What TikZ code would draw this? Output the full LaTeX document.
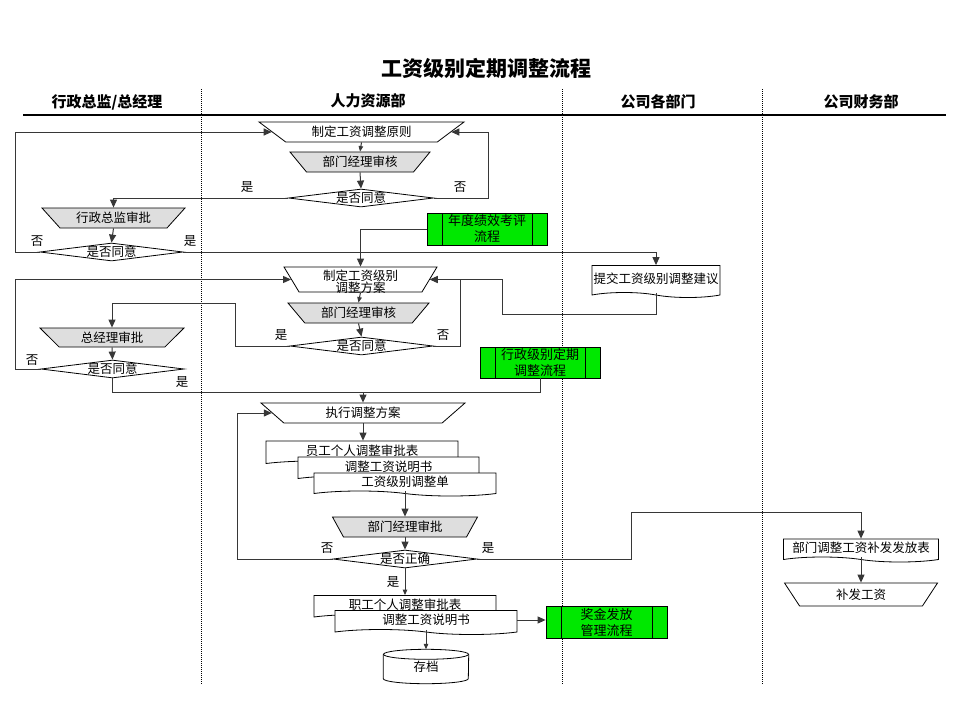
\documentclass[tikz,border=0pt]{standalone}
\usepackage{fontspec}
\newfontfamily\cjk{Noto Sans CJK SC}
\usetikzlibrary{shapes.geometric,shapes.symbols,arrows.meta,calc}
\definecolor{procgreen}{RGB}{0,232,0}
\definecolor{lgray}{RGB}{222,222,222}
\definecolor{lcol}{RGB}{55,55,55}
\begin{document}
\begin{tikzpicture}[x=1pt,y=-1pt,
  every node/.style={font=\cjk\fontsize{12.5}{15}\selectfont, inner sep=0pt},
  shp/.style={draw=black, line width=0.8pt},
  trapz/.style={shp, trapezium, trapezium left angle=#1, trapezium right angle=#1,
    trapezium stretches body, shape border rotate=180, fill=white},
  gtrapz/.style={trapz=#1, fill=lgray},
  dmd/.style={shp, diamond, fill=white},
  docu/.style={shp, tape, tape bend top=none, tape bend bottom=out and in,
    tape bend height=5pt, fill=white},
  subp/.style={shp, fill=procgreen, minimum width=120, minimum height=32, align=center,
    font=\cjk\fontsize{13}{16}\selectfont,
    path picture={\draw[line width=0.8pt] ([xshift=15pt]path picture bounding box.north west) -- ([xshift=15pt]path picture bounding box.south west);
      \draw[line width=0.8pt] ([xshift=-15pt]path picture bounding box.north east) -- ([xshift=-15pt]path picture bounding box.south east);}},
  lane/.style={font=\cjk\fontsize{15}{18}\selectfont\bfseries},
  ylab/.style={font=\cjk\fontsize{12.5}{15}\selectfont},
  line/.style={draw=lcol, line width=1pt},
  conn/.style={line, -{Triangle[length=8pt,width=7pt]}},
  connS/.style={line, -{Triangle[length=5.5pt,width=4.5pt]}},
]
\fill[white] (0,0) rectangle (960,720);
\useasboundingbox (0,0) rectangle (960,720);

% title and lanes
\node[font=\cjk\fontsize{21}{24}\selectfont\bfseries] (title) at (486,68) {工资级别定期调整流程};
\node[lane] (h1) at (107,102) {行政总监/总经理};
\node[lane] (h2) at (368,101) {人力资源部};
\node[lane] (h3) at (658,102) {公司各部门};
\node[lane] (h4) at (861,102) {公司财务部};
\draw[line width=1.5pt] (23,115) -- (946,115);
\foreach \xx in {201,562,762}
  \draw[line width=0.7pt, dash pattern=on 1pt off 1pt] (\xx,89) -- (\xx,685);

% nodes
\node[trapz=23.5, minimum width=205, minimum height=20] (t1) at (361.5,132) {制定工资调整原则};
\node[gtrapz=35.1, minimum width=140, minimum height=20] (a1) at (360,162) {部门经理审核};
\node[dmd, minimum width=145, minimum height=18, label=center:是否同意] (d1) at (361,198) {};
\node[gtrapz=32.8, minimum width=143, minimum height=20] (b1) at (113.5,218) {行政总监审批};
\node[dmd, minimum width=143, minimum height=18, label=center:是否同意] (d2) at (111.5,252) {};
\node[subp] (g1) at (487,229) {年度绩效考评\\流程};
\node[trapz=40.8, minimum width=153, minimum height=25] (t2) at (360.5,279.5)
  {\rule[-2pt]{0pt}{13pt}\smash{\raisebox{-2pt}{\begin{tabular}{@{}c@{}}制定工资级别\\[-3pt]调整方案\end{tabular}}}};
\node[docu, minimum width=128, minimum height=32] (tj) at (656,279) {提交工资级别调整建议};
\node[gtrapz=34.6, minimum width=141, minimum height=20] (a2) at (358.5,313) {部门经理审核};
\node[dmd, minimum width=143, minimum height=18, label=center:是否同意] (d3) at (361.5,346) {};
\node[gtrapz=31.1, minimum width=144, minimum height=19] (b2) at (112,337.5) {总经理审批};
\node[dmd, minimum width=143, minimum height=18, label=center:是否同意] (d4) at (112.5,369) {};
\node[subp, minimum height=31] (g2) at (540,362.5) {行政级别定期\\调整流程};
\node[trapz=26.9, minimum width=204, minimum height=20] (t3) at (363,413) {执行调整方案};
\node[docu, minimum width=192, minimum height=25] (doc1) at (362,451) {员工个人调整审批表};
\node[docu, minimum width=181, minimum height=24] (doc2) at (388.5,466.5) {调整工资说明书};
\node[docu, minimum width=182, minimum height=23] (doc3) at (405,482) {工资级别调整单};
\node[gtrapz=46.5, minimum width=145, minimum height=20] (a3) at (405,527) {部门经理审批};
\node[dmd, minimum width=144, minimum height=18, label=center:是否正确] (d5) at (405,559) {};
\node[docu, minimum width=182, minimum height=24] (doc4) at (405,605) {职工个人调整审批表};
\node[docu, minimum width=182, minimum height=24] (doc5) at (426,620) {调整工资说明书};
\node[subp, minimum width=121] (g3) at (606.5,622) {奖金发放\\管理流程};
\node[minimum width=85, minimum height=34] (arch) at (426,666.5) {存档};
\draw[shp] ($(arch.north)+(0,5)$) ellipse [x radius=42.5pt, y radius=5pt];
\draw[shp] ($(arch.north west)+(0,5)$) -- ($(arch.south west)+(0,-5)$)
  arc[start angle=180, end angle=360, x radius=42.5pt, y radius=5pt] -- ($(arch.north east)+(0,5)$);
\node[docu, minimum width=155, minimum height=23] (pd) at (861,548) {部门调整工资补发发放表};
\node[trapz=37.5, minimum width=153, minimum height=23] (t4) at (861,594.5) {补发工资};

% yes / no labels
\node[ylab] (l1) at (247,187) {是};
\node[ylab] (l2) at (460,187) {否};
\node[ylab] (l3) at (37,241) {否};
\node[ylab] (l4) at (190,241) {是};
\node[ylab] (l5) at (281,335) {是};
\node[ylab] (l6) at (443,335) {否};
\node[ylab] (l7) at (32,360) {否};
\node[ylab] (l8) at (182,382) {是};
\node[ylab] (l9) at (327,548) {否};
\node[ylab] (l10) at (488,548) {是};
\node[ylab] (l11) at (393,582) {是};

% connectors
\draw[connS] (t1.270) -- (a1.90);
\draw[conn] (a1.270) -- (d1.90);
\draw[conn] (d1.west) -| (b1.90);
\draw[conn] (d1.east) -- ++(55,0) |- (t1.0);
\draw[conn] (b1.270) -- (d2.90);
\draw[conn] (d2.west) -- ++(-24,0) |- (t1.180);
\draw[conn] (d2.east) -| (tj.north);
\draw[conn] (g1.west) -| (t2.90);
\draw[connS] (t2.270) -- (a2.90);
\draw[conn] (a2.270) -- (d3.90);
\draw[conn] (d3.west) -- ++(-54,0) -- ++(0,-43) -| (b2.90);
\draw[conn] (d3.east) -- ++(27,0) |- (t2.0);
\draw[conn] (tj.south) -- ++(0,22) -- ++(-154,0) |- (t2.0);
\draw[conn] (b2.270) -- (d4.90);
\draw[conn] (d4.west) -- ++(-25,0) |- (t2.180);
\coordinate (j3) at ($(d4.south)+(0,14)$);
\draw[line] (d4.south) -- (j3) -- (j3 -| g2.south) -- (g2.south);
\draw[conn] (j3 -| t3.90) -- (t3.90);
\draw[conn] (t3.270) -- (t3.270 |- doc1.north);
\draw[conn] (doc3.south) -- (a3.90);
\draw[conn] (a3.270) -- (d5.90);
\draw[conn] (d5.west) -- ++(-95,0) |- (t3.180);
\draw[conn] (d5.east) -- ++(154,0) -- ++(0,-47) -| (pd.north);
\draw[connS] (d5.south) -- (d5.south |- doc4.north);
\draw[conn] (doc5.east) -- (doc5.east -| g3.west);
\draw[connS] (doc5.south) -- (arch.north);
\draw[conn] (pd.south) -- (t4.90);
\end{tikzpicture}
\end{document}
